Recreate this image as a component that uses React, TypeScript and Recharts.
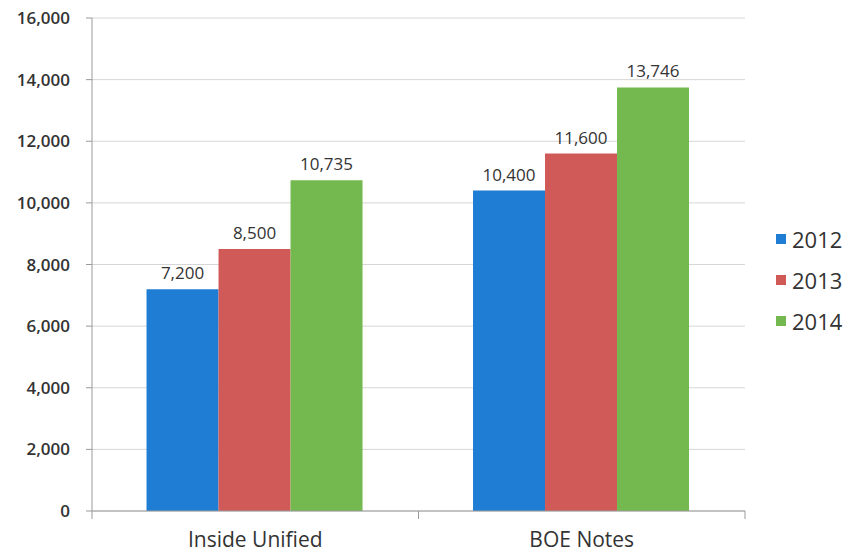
import { BarChart, Bar, XAxis, YAxis, CartesianGrid, LabelList } from "recharts";

const categories = ["Inside Unified", "BOE Notes"];
const values2012 = [7200, 10400];
const values2013 = [8500, 11600];
const values2014 = [10735, 13746];
const yTicks = [0, 2000, 4000, 6000, 8000, 10000, 12000, 14000, 16000];

const series = [
  { key: "y2012", name: "2012", color: "#1F7DD4" },
  { key: "y2013", name: "2013", color: "#CF5A57" },
  { key: "y2014", name: "2014", color: "#73B94F" },
];

const data = categories.map((name, i) => ({
  name,
  y2012: values2012[i],
  y2013: values2013[i],
  y2014: values2014[i],
}));

const font = "'Open Sans', 'Noto Sans', sans-serif";
const fmt = (v: number) => v.toLocaleString("en-US");

// category labels centered, tick marks drawn at the band edges like Excel
function CategoryTick(props: any) {
  const { x, y, payload } = props;
  const half = payload && payload.offset ? payload.offset : 163;
  return (
    <g>
      <line x1={x - half} y1={y - 8} x2={x - half} y2={y} stroke="#9a9a9a" />
      <line x1={x + half} y1={y - 8} x2={x + half} y2={y} stroke="#9a9a9a" />
      <text x={x} y={y + 28} textAnchor="middle" fill="#333" fontSize={21} fontFamily={font}>
        {payload.value}
      </text>
    </g>
  );
}

export default function App() {
  return (
    <div style={{ position: "absolute", left: 0, top: 0, width: 848, height: 556, background: "#fff" }}>
      <BarChart
        width={848}
        height={556}
        data={data}
        margin={{ top: 18, right: 103, left: 0, bottom: 0 }}
        barCategoryGap="16.7%"
        barGap={0}
      >
        <CartesianGrid vertical={false} stroke="#d6d6d6" />
        <XAxis
          dataKey="name"
          height={45}
          stroke="#9a9a9a"
          tickLine={false}
          tick={<CategoryTick />}
          interval={0}
        />
        <YAxis
          width={92}
          domain={[0, 16000]}
          ticks={yTicks}
          tickFormatter={fmt}
          stroke="#9a9a9a"
          tickSize={6}
          tickMargin={16}
          tick={{ fill: "#333", fontSize: 17, fontWeight: 600, fontFamily: font }}
        />
        {series.map((s) => (
          <Bar key={s.key} dataKey={s.key} name={s.name} fill={s.color} isAnimationActive={false}>
            <LabelList
              dataKey={s.key}
              position="top"
              offset={10}
              formatter={(v: any) => fmt(Number(v))}
              fill="#333"
              fontSize={17}
              fontFamily={font}
            />
          </Bar>
        ))}
      </BarChart>
      <div style={{ position: "absolute", left: 776, top: 218, fontFamily: font }}>
        {series.map((s) => (
          <div key={s.key} style={{ display: "flex", alignItems: "center", height: 41 }}>
            <span style={{ width: 10, height: 10, background: s.color, marginRight: 6 }} />
            <span style={{ fontSize: 22, color: "#333" }}>{s.name}</span>
          </div>
        ))}
      </div>
    </div>
  );
}
